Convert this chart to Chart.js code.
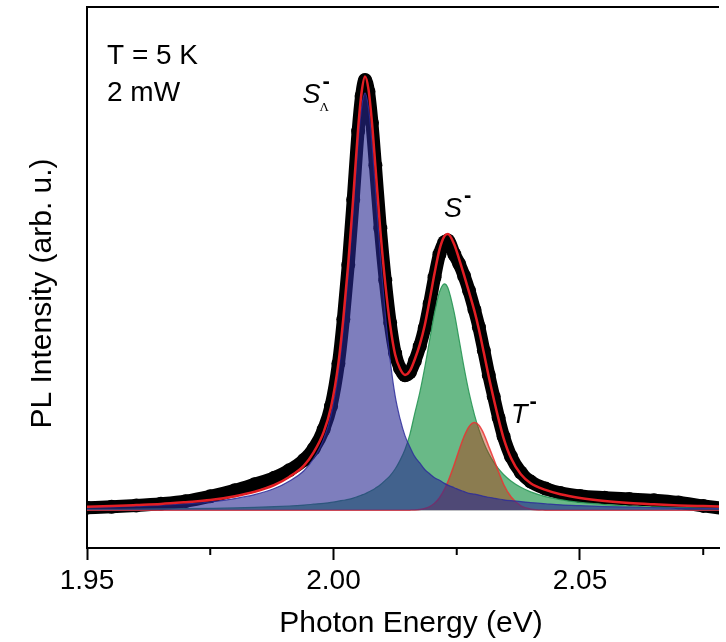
<!DOCTYPE html>
<html>
<head>
<meta charset="utf-8">
<script src="https://cdn.jsdelivr.net/npm/chart.js@4.4.1/dist/chart.umd.min.js"></script>
<style>
  html, body { margin: 0; padding: 0; background: #fff; overflow: hidden; }
  #plChart { display: block; }
</style>
</head>
<body>
<canvas id="plChart" width="726" height="642"></canvas>
<script>
// Photon energy grid (eV) shared by the spectrum and the fitted peaks
const energies = [
  1.950, 1.955, 1.960, 1.965, 1.970, 1.975, 1.980, 1.984, 1.988, 1.991,
  1.994, 1.996, 1.998, 1.9995, 2.001, 2.002, 2.003, 2.004, 2.005, 2.0057,
  2.0064, 2.0071, 2.0078, 2.0085, 2.0095, 2.0105, 2.0115, 2.0125, 2.0135, 2.0145,
  2.0155, 2.0165, 2.0175, 2.0185, 2.0195, 2.0205, 2.0215, 2.0225, 2.0232, 2.0245,
  2.0255, 2.0265, 2.0275, 2.0286, 2.0295, 2.0305, 2.0315, 2.0325, 2.0335, 2.0345,
  2.036, 2.038, 2.040, 2.043, 2.046, 2.050, 2.055, 2.060, 2.065, 2.070,
  2.075, 2.080
];

// Measured PL spectrum (normalised)
const measured = [
  0.006, 0.008, 0.011, 0.015, 0.021, 0.032, 0.046, 0.060, 0.075, 0.092,
  0.116, 0.142, 0.186, 0.240, 0.338, 0.440, 0.566, 0.716, 0.874, 0.955,
  0.992, 0.965, 0.893, 0.795, 0.650, 0.530, 0.432, 0.362, 0.327, 0.311,
  0.318, 0.344, 0.378, 0.420, 0.476, 0.537, 0.590, 0.618, 0.622, 0.590,
  0.568, 0.540, 0.506, 0.462, 0.422, 0.368, 0.312, 0.262, 0.213, 0.170,
  0.124, 0.087, 0.066, 0.050, 0.040, 0.033, 0.029, 0.026, 0.023, 0.018,
  0.010, 0.003
];

// Total fit
const fitTotal = [
  0.0079, 0.0097, 0.012, 0.0145, 0.0186, 0.0234, 0.0324, 0.0426, 0.0582, 0.0768,
  0.103, 0.134, 0.180, 0.238, 0.339, 0.443, 0.569, 0.720, 0.880, 0.963,
  1.000, 0.970, 0.894, 0.793, 0.645, 0.523, 0.426, 0.359, 0.326, 0.312,
  0.3213, 0.3482, 0.3817, 0.4259, 0.4843, 0.5461, 0.6009, 0.632, 0.6366, 0.6126,
  0.5784, 0.5414, 0.5028, 0.459, 0.4167, 0.3628, 0.3075, 0.257, 0.2094, 0.1665,
  0.1204, 0.0828, 0.0623, 0.0469, 0.0369, 0.0285, 0.0215, 0.0168, 0.0137, 0.0112,
  0.0096, 0.0082
];

// Fitted components: S_Lambda^-, S^-, T^-
const peakSLambda = [
  0.006, 0.0075, 0.0095, 0.0115, 0.015, 0.019, 0.027, 0.036, 0.050, 0.067,
  0.091, 0.120, 0.164, 0.220, 0.318, 0.420, 0.544, 0.692, 0.848, 0.928,
  0.962, 0.928, 0.848, 0.742, 0.586, 0.454, 0.346, 0.264, 0.211, 0.172,
  0.146, 0.1235, 0.109, 0.094, 0.084, 0.075, 0.069, 0.062, 0.058, 0.052,
  0.047, 0.043, 0.039, 0.037, 0.035, 0.032, 0.030, 0.028, 0.026, 0.024,
  0.022, 0.020, 0.0175, 0.015, 0.0125, 0.0105, 0.0085, 0.007, 0.006, 0.005,
  0.0045, 0.004
];
const peakS = [
  0.0019, 0.0022, 0.0025, 0.003, 0.0036, 0.0044, 0.0054, 0.0066, 0.0082, 0.0098,
  0.012, 0.014, 0.016, 0.018, 0.021, 0.023, 0.025, 0.028, 0.032, 0.035,
  0.038, 0.042, 0.046, 0.051, 0.059, 0.069, 0.080, 0.095, 0.115, 0.140,
  0.175, 0.224, 0.271, 0.328, 0.392, 0.455, 0.503, 0.522, 0.513, 0.455,
  0.392, 0.328, 0.271, 0.220, 0.186, 0.155, 0.1305, 0.111, 0.0954, 0.0825,
  0.0674, 0.0528, 0.0423, 0.0316, 0.0244, 0.018, 0.013, 0.0098, 0.0077, 0.0062,
  0.0051, 0.0042
];
const peakT = [
  0, 0, 0, 0, 0, 0, 0, 0, 0, 0,
  0, 0, 0, 0, 0, 0, 0, 0, 0, 0,
  0, 0, 0, 0, 0, 0, 0, 0, 0, 0,
  0.0003, 0.0007, 0.0017, 0.0039, 0.0083, 0.0161, 0.0289, 0.048, 0.0656, 0.1056,
  0.1394, 0.1704, 0.1928, 0.202, 0.1957, 0.1758, 0.147, 0.118, 0.088, 0.060,
  0.031, 0.010, 0.0025, 0.0003, 0, 0, 0, 0, 0, 0,
  0, 0
];

const majorTicks = [1.95, 2.00, 2.05];
const minorTicks = [1.975, 2.025, 2.075];

const FONT = "'Liberation Sans', Arial, sans-serif";

// Peak labels, anchored in data coordinates (energy, intensity)
const peakLabels = [
  { name: 'S', sub: 'Λ', e: 1.9937, v: 0.938 },
  { name: 'S', e: 2.0224, v: 0.675 },
  { name: 'T', e: 2.0360, v: 0.201 }
];

const toPoints = ys => energies.map((e, i) => ({ x: e, y: ys[i] }));

// Frame top edge, minor ticks, titles and annotations
const plDecor = {
  id: 'plDecor',
  afterDraw(chart) {
    const { ctx, chartArea, scales: { x, y } } = chart;
    ctx.save();
    ctx.strokeStyle = '#000';
    ctx.lineWidth = 2;
    ctx.beginPath();
    ctx.moveTo(chartArea.left - 1, chartArea.top);
    ctx.lineTo(chartArea.right, chartArea.top);
    ctx.stroke();

    minorTicks.forEach(v => {
      const px = x.getPixelForValue(v);
      ctx.beginPath();
      ctx.moveTo(px, chartArea.bottom);
      ctx.lineTo(px, chartArea.bottom + 7);
      ctx.stroke();
    });

    ctx.fillStyle = '#000';
    ctx.textBaseline = 'alphabetic';

    // axis titles
    ctx.font = `30px ${FONT}`;
    ctx.textAlign = 'center';
    ctx.fillText('Photon Energy (eV)', (chartArea.left + chartArea.right) / 2 + 8, 632);
    ctx.save();
    ctx.translate(51, (chartArea.top + chartArea.bottom) / 2 + 16);
    ctx.rotate(-Math.PI / 2);
    ctx.fillText('PL Intensity (arb. u.)', 0, 0);
    ctx.restore();

    // measurement conditions
    ctx.textAlign = 'left';
    ctx.font = `28px ${FONT}`;
    ctx.fillText('T = 5 K', chartArea.left + 20, chartArea.top + 57);
    ctx.fillText('2 mW', chartArea.left + 20, chartArea.top + 94);

    // peak names with charge superscript
    peakLabels.forEach(lbl => {
      const px = x.getPixelForValue(lbl.e);
      const py = y.getPixelForValue(lbl.v);
      ctx.font = `italic 27px ${FONT}`;
      ctx.fillText(lbl.name, px, py);
      const w = ctx.measureText(lbl.name).width;
      ctx.font = `bold 22px ${FONT}`;
      ctx.fillText('-', px + w + 2, py - 15);
      if (lbl.sub) {
        ctx.font = `13px 'Liberation Serif', 'DejaVu Serif', serif`;
        ctx.fillText(lbl.sub, px + w - 1, py + 8);
      }
    });
    ctx.restore();
  }
};

const commonLine = {
  pointRadius: 0,
  cubicInterpolationMode: 'monotone'
};

new Chart(document.getElementById('plChart'), {
  type: 'line',
  data: {
    datasets: [
      {
        ...commonLine,
        label: 'Fit',
        data: toPoints(fitTotal),
        borderColor: '#e31e24',
        borderWidth: 2.5,
        fill: false,
        order: 0
      },
      {
        ...commonLine,
        label: 'S_Lambda',
        data: toPoints(peakSLambda),
        borderColor: 'rgba(45, 45, 155, 0.85)',
        borderWidth: 1.2,
        backgroundColor: 'rgba(40, 40, 145, 0.6)',
        fill: 'origin',
        order: 1
      },
      {
        ...commonLine,
        label: 'T',
        data: toPoints(peakT),
        borderColor: 'rgba(235, 50, 50, 0.85)',
        borderWidth: 1.5,
        backgroundColor: 'rgba(192, 35, 0, 0.4)',
        fill: 'origin',
        order: 2
      },
      {
        ...commonLine,
        label: 'S',
        data: toPoints(peakS),
        borderColor: 'rgba(40, 150, 85, 0.9)',
        borderWidth: 1.2,
        backgroundColor: 'rgba(5, 138, 55, 0.6)',
        fill: 'origin',
        order: 3
      },
      {
        label: 'Data',
        data: toPoints(measured),
        borderColor: '#000',
        borderWidth: 13,
        borderJoinStyle: 'round',
        borderCapStyle: 'round',
        pointRadius: 7,
        pointBackgroundColor: '#000',
        pointBorderWidth: 0,
        cubicInterpolationMode: 'monotone',
        fill: false,
        order: 4
      }
    ]
  },
  options: {
    responsive: false,
    animation: false,
    devicePixelRatio: 1,
    layout: { padding: { top: 3, right: 0, bottom: 0, left: 0 } },
    plugins: {
      legend: { display: false },
      tooltip: { enabled: false }
    },
    scales: {
      x: {
        type: 'linear',
        min: 1.95,
        max: 2.0782,
        afterBuildTicks: axis => {
          axis.ticks = majorTicks.concat(minorTicks)
            .sort((a, b) => a - b)
            .map(v => ({ value: v }));
        },
        afterFit: axis => { axis.height = 94; },
        ticks: {
          autoSkip: false,
          maxRotation: 0,
          padding: 4,
          color: '#000',
          font: { family: FONT, size: 28 },
          callback: value => majorTicks.includes(value) ? value.toFixed(2) : ''
        },
        grid: {
          drawOnChartArea: false,
          tickLength: 12,
          tickWidth: 2,
          tickColor: ctx => (ctx.tick && minorTicks.includes(ctx.tick.value)) ? 'rgba(0,0,0,0)' : '#000'
        },
        border: { display: true, color: '#000', width: 2 }
      },
      y: {
        min: -0.087,
        max: 1.160,
        afterFit: axis => { axis.width = 87; },
        ticks: { display: false },
        grid: { display: false },
        border: { display: true, color: '#000', width: 2 }
      }
    }
  },
  plugins: [plDecor]
});
</script>
</body>
</html>
